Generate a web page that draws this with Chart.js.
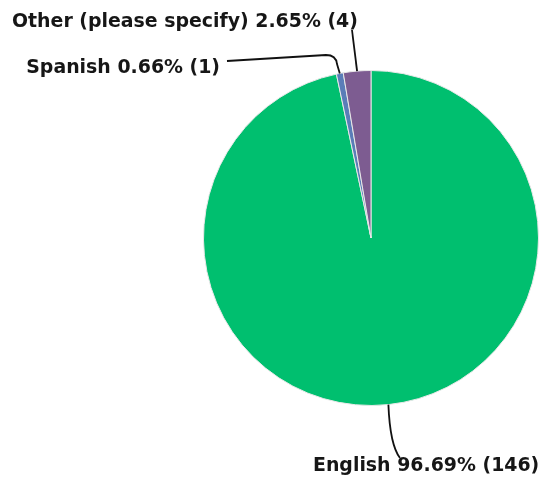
<!DOCTYPE html>
<html>
<head>
<meta charset="utf-8">
<script src="https://cdn.jsdelivr.net/npm/chart.js@4.4.1/dist/chart.umd.min.js"></script>
<style>
  html, body { margin: 0; padding: 0; background: #fff; }
  #wrap { width: 540px; height: 479px; position: relative; }
</style>
</head>
<body>
<div id="wrap"><canvas id="pie"></canvas></div>
<script>
// respuestas por idioma
const categorias = ['English', 'Spanish', 'Other (please specify)'];
const respuestas = [146, 1, 4];
const colores = ['#00BF6F', '#5A7DB8', '#7D5C91'];

const total = respuestas.reduce((a, b) => a + b, 0);

function etiqueta(i) {
    const pct = (respuestas[i] / total * 100).toFixed(2);
    return categorias[i] + ' ' + pct + '% (' + respuestas[i] + ')';
}

// donde va cada texto y por donde pasa la linea guia
// (cada tramo: [x, y] recto o [cx, cy, x, y] curva)
const posEtiquetas = [
    { x: 313, y: 466, align: 'left',  tramos: [[390, 445, 400, 458]] },
    { x: 220, y: 68,  align: 'right', tramos: [[337, 64], [336, 55, 326, 55], [227, 61]] },
    { x: 12,  y: 22,  align: 'left',  tramos: [[352, 30]] }
];

const FONT_FAMILY = '"DejaVu Sans", sans-serif';
const ANCHO_OTHER = 346; // ancho del texto mas largo

const etiquetasPlugin = {
    id: 'etiquetas',
    afterDraw(chart) {
        const ctx = chart.ctx;
        const arcs = chart.getDatasetMeta(0).data;
        ctx.save();

        // ajusta el tamaño de letra al ancho buscado
        ctx.font = 'bold 20px ' + FONT_FAMILY;
        const w = ctx.measureText(etiqueta(2)).width;
        const size = 20 * ANCHO_OTHER / w;
        ctx.font = 'bold ' + size.toFixed(2) + 'px ' + FONT_FAMILY;

        ctx.fillStyle = '#161616';
        ctx.textBaseline = 'middle';
        arcs.forEach((arc, i) => {
            const p = posEtiquetas[i];
            const mid = (arc.startAngle + arc.endAngle) / 2;
            const r = arc.outerRadius;
            const ax = arc.x + Math.cos(mid) * r;
            const ay = arc.y + Math.sin(mid) * r;

            ctx.beginPath();
            ctx.strokeStyle = '#111';
            ctx.lineWidth = 1.8;
            ctx.lineJoin = 'round';
            ctx.moveTo(ax, ay);
            p.tramos.forEach(t => {
                if (t.length === 4) {
                    ctx.quadraticCurveTo(t[0], t[1], t[2], t[3]);
                } else {
                    ctx.lineTo(t[0], t[1]);
                }
            });
            ctx.stroke();

            ctx.textAlign = p.align;
            ctx.fillText(etiqueta(i), p.x, p.y);
        });
        ctx.restore();
    }
};

const pieChart = new Chart(document.getElementById('pie'), {
    type: 'pie',
    data: {
        labels: categorias,
        datasets: [{
            data: respuestas,
            backgroundColor: colores,
            borderColor: '#e8e8e8',
            borderWidth: 1
        }]
    },
    options: {
        responsive: true,
        maintainAspectRatio: false,
        animation: false,
        layout: {
            padding: { left: 202, right: 0, top: 70, bottom: 73 }
        },
        plugins: {
            legend: { display: false },
            tooltip: { enabled: false }
        }
    },
    plugins: [etiquetasPlugin]
});
</script>
</body>
</html>
